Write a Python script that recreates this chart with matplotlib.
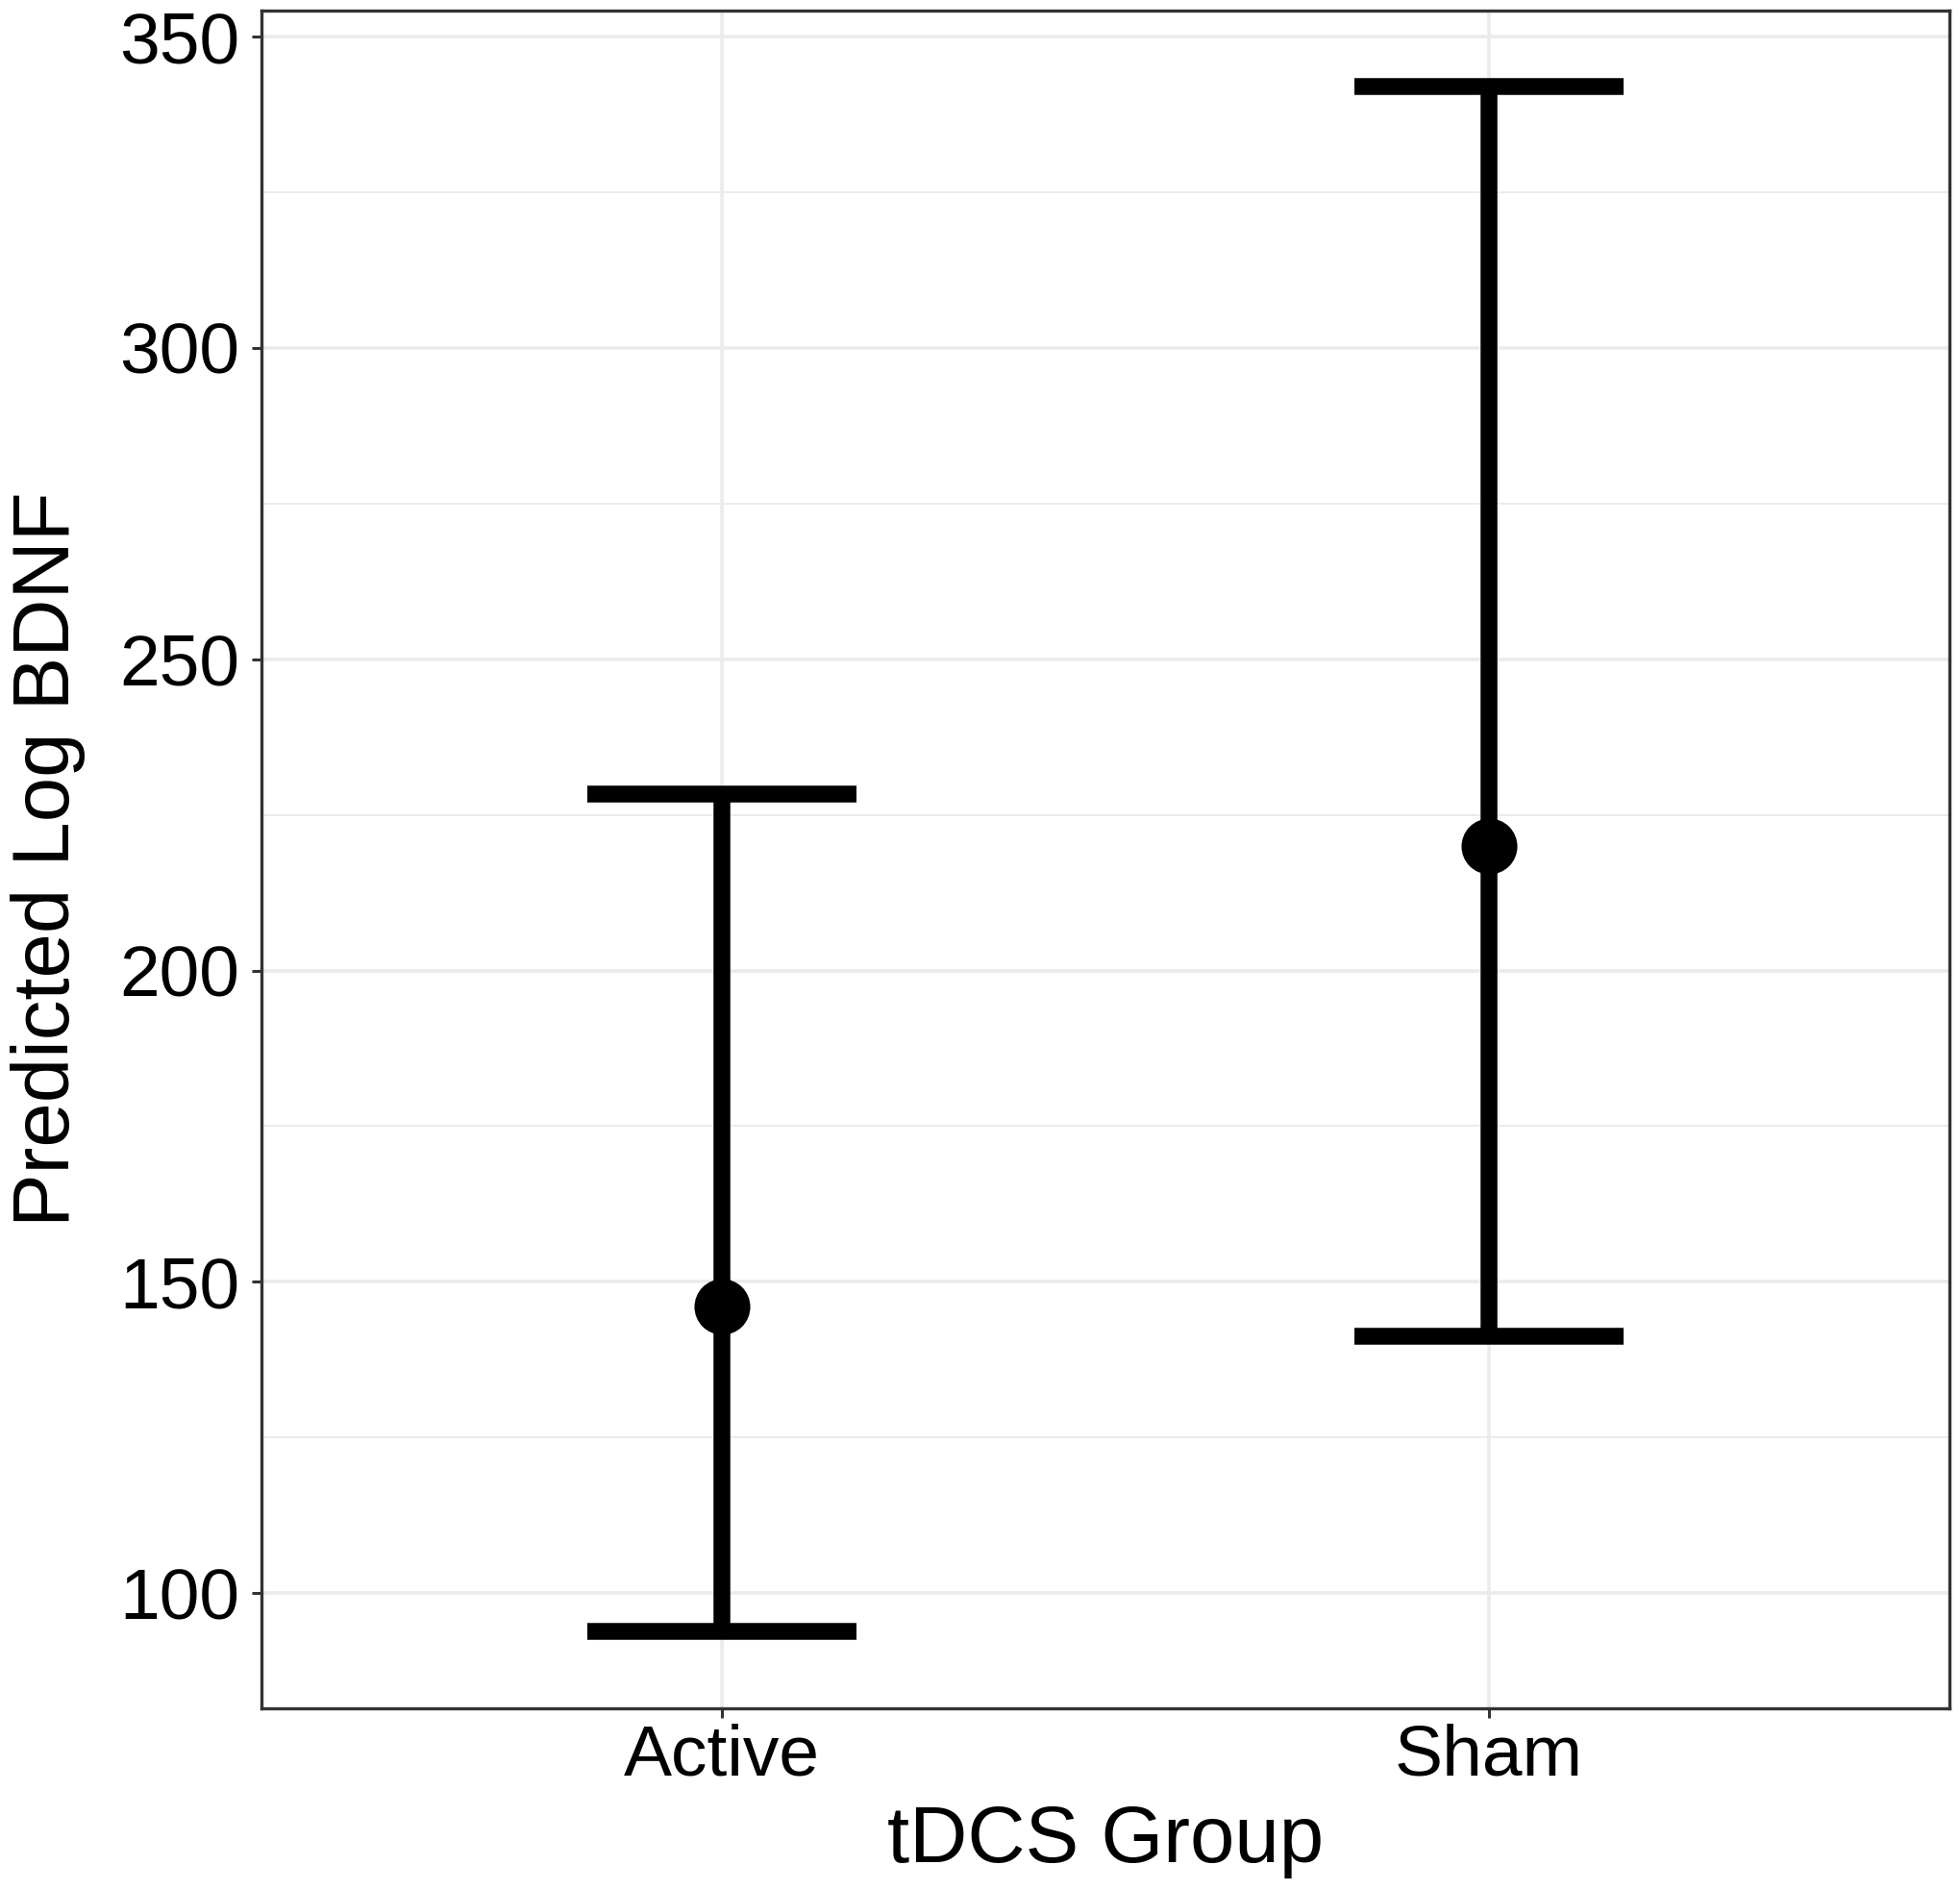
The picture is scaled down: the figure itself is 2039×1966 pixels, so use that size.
import matplotlib
matplotlib.use("Agg")
import matplotlib.pyplot as plt
import numpy as np

# Data
groups = ["Active", "Sham"]
predicted = [146.1, 220.0]
lower = [93.8, 141.3]
upper = [228.3, 342.0]

x_label = "tDCS Group"
y_label = "Predicted Log BDNF"
y_ticks = [100, 150, 200, 250, 300, 350]
y_minor = [125, 175, 225, 275, 325]

plt.rcParams['font.family'] = ['Liberation Sans', 'DejaVu Sans']

fig = plt.figure(figsize=(20.4, 19.66), dpi=100)
ax = fig.add_axes([272/2040, 1 - 1777/1966, (2028-272)/2040, (1777-11)/1966])

xpos = np.arange(1, len(groups) + 1)
cap_half = 0.175
lw = 12.6

ax.vlines(xpos, lower, upper, colors="black", linewidth=lw, zorder=3, capstyle="butt")
ax.hlines(lower, xpos - cap_half, xpos + cap_half, colors="black", linewidth=lw, zorder=3, capstyle="butt")
ax.hlines(upper, xpos - cap_half, xpos + cap_half, colors="black", linewidth=lw, zorder=3, capstyle="butt")
ax.scatter(xpos, predicted, s=41.8**2, color="black", zorder=4, linewidths=0)

ax.set_xlim(0.4, 2.6)
ax.set_ylim(81.5, 354.2)
ax.set_xticks(xpos)
ax.set_xticklabels(groups)
ax.set_yticks(y_ticks)
ax.set_yticks(y_minor, minor=True)

ax.grid(True, which="major", color="#EBEBEB", linewidth=2.6, zorder=0)
ax.grid(True, which="minor", axis="y", color="#EBEBEB", linewidth=1.4, zorder=0)
ax.set_axisbelow(True)

for s in ax.spines.values():
    s.set_color("#333333")
    s.set_linewidth(2.4)

ax.tick_params(axis="both", which="major", length=7.5, width=2.2, color="#333333",
               labelsize=54, labelcolor="black")
ax.tick_params(axis="y", which="major", pad=9)
ax.tick_params(axis="x", which="major", pad=4)
ax.tick_params(axis="both", which="minor", length=0)

ax.set_xlabel(x_label, fontsize=60, labelpad=10)
ax.set_ylabel(y_label, fontsize=60, labelpad=25)

fig.savefig("out.png", dpi=100, facecolor="white")
